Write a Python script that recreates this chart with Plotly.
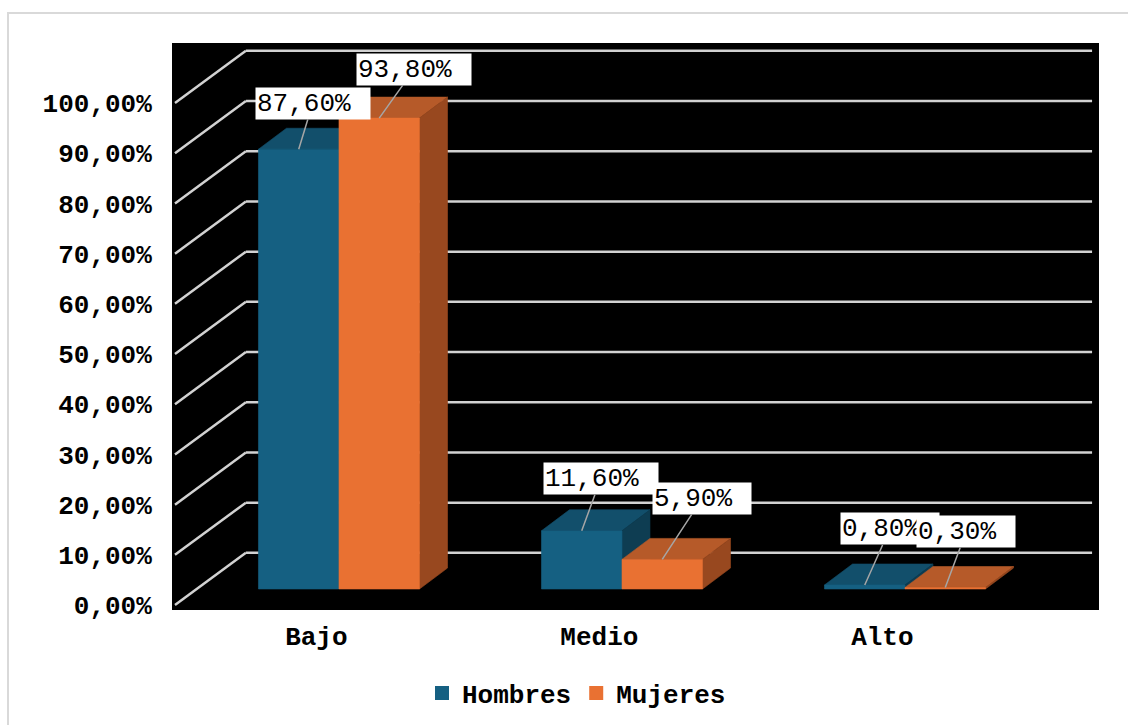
import plotly.graph_objects as go

# ---- data ----
categories = ["Bajo", "Medio", "Alto"]
hombres = [87.6, 11.6, 0.8]
mujeres = [93.8, 5.9, 0.3]
y_ticks = [0, 10, 20, 30, 40, 50, 60, 70, 80, 90, 100]
y_tick_labels = ["0,00%", "10,00%", "20,00%", "30,00%", "40,00%", "50,00%",
                 "60,00%", "70,00%", "80,00%", "90,00%", "100,00%"]
series_names = ["Hombres", "Mujeres"]

# ---- style ----
FONT = "Courier New, Liberation Mono, monospace"
FS = 26
BLUE = {"front": "#156082", "top": "#124f6b", "side": "#0e3d52"}
ORANGE = {"front": "#E97132", "top": "#B65A29", "side": "#98481F"}
GRID = "#d2d2d2"

BAR_W = 0.2845          # width of one bar (x units)
DX, DY = 0.099, 4.18    # oblique depth of a bar (x units, y units)
WALL_FRONT_DX, WALL_FRONT_DY = -0.5795, -3.2   # front end of gridlines
WALL_BACK_DX, WALL_BACK_DY = -0.329, 7.2      # back wall
WALL_RIGHT = 2.661
LABEL_DX = -0.08

fig = go.Figure()


def poly(xs, ys, color):
    fig.add_trace(go.Scatter(
        x=xs + [xs[0]], y=ys + [ys[0]], mode="lines", fill="toself",
        fillcolor=color, line=dict(color=color, width=0.6),
        hoverinfo="skip", showlegend=False))


def bar3d(x0, v, pal):
    x1 = x0 + BAR_W
    # top face
    poly([x0, x1, x1 + DX, x0 + DX], [v, v, v + DY, v + DY], pal["top"])
    # right side face
    poly([x1, x1 + DX, x1 + DX, x1], [0, DY, v + DY, v], pal["side"])
    # front face
    poly([x0, x1, x1, x0], [0, 0, v, v], pal["front"])


for i in range(len(categories)):
    bar3d(i - BAR_W, hombres[i], BLUE)
    bar3d(i, mujeres[i], ORANGE)

# legend entries
for name, pal in zip(series_names, [BLUE, ORANGE]):
    fig.add_trace(go.Scatter(
        x=[None], y=[None], mode="markers", name=f"<b>{name}</b>",
        marker=dict(symbol="square", size=14, color=pal["front"])))

# perspective gridlines: diagonal on the side wall, then along the back wall
shapes = []
for t in y_ticks:
    shapes.append(dict(type="line", xref="x", yref="y", layer="below",
                       x0=WALL_FRONT_DX, y0=t + WALL_FRONT_DY,
                       x1=WALL_BACK_DX, y1=t + WALL_BACK_DY,
                       line=dict(color=GRID, width=2.5)))
    shapes.append(dict(type="line", xref="x", yref="y", layer="below",
                       x0=WALL_BACK_DX, y0=t + WALL_BACK_DY,
                       x1=WALL_RIGHT, y1=t + WALL_BACK_DY,
                       line=dict(color=GRID, width=2.5)))

# outer chart-area frame
shapes.append(dict(type="rect", xref="paper", yref="paper",
                   x0=(8 - 172) / 927, x1=(1135 - 172) / 927,
                   y0=(610 - 735) / 567, y1=(610 - 13) / 567,
                   line=dict(color="#d9d9d9", width=2), layer="below"))

# data labels with leader lines
label_offsets = {
    ("Hombres", 0): (14, -46), ("Mujeres", 0): (35, -49),
    ("Hombres", 1): (19, -52), ("Mujeres", 1): (40, -61),
    ("Hombres", 2): (25, -56), ("Mujeres", 2): (21, -56),
}
annotations = []
for i in range(len(categories)):
    for name, vals, xc in (("Hombres", hombres, i - BAR_W / 2),
                           ("Mujeres", mujeres, i + BAR_W / 2)):
        txt = f"{vals[i]:.2f}%".replace(".", ",")
        ax, ay = label_offsets[(name, i)]
        annotations.append(dict(
            x=xc, y=vals[i], xref="x", yref="y", text=txt,
            showarrow=True, arrowhead=0, arrowwidth=1.5, arrowcolor="#a6a6a6",
            ax=ax, ay=ay, standoff=0, startstandoff=0,
            bgcolor="white", width=len(txt) * 15.6 + 18, height=29,
            borderpad=1, align="left",
            font=dict(family=FONT, size=FS, color="black")))

fig.update_layout(
    width=1128, height=725,
    margin=dict(l=172, r=29, t=43, b=115, autoexpand=False),
    paper_bgcolor="white", plot_bgcolor="black",
    shapes=shapes, annotations=annotations,
    font=dict(family=FONT, size=FS, color="black"),
    xaxis=dict(range=[-0.590, 2.6855], showgrid=False, zeroline=False,
               showline=False, tickmode="array", automargin=False,
               tickvals=[i + LABEL_DX for i in range(len(categories))],
               ticktext=[f"<b>{c}</b>" for c in categories],
               ticks="outside", ticklen=3, tickcolor="rgba(0,0,0,0)",
               tickfont=dict(family=FONT, size=FS, color="black"),
               fixedrange=True),
    yaxis=dict(range=[-4.183, 108.76], showgrid=False, zeroline=False,
               showline=False, tickmode="array", automargin=False,
               tickvals=[t + WALL_FRONT_DY for t in y_ticks],
               ticktext=[f"<b>{s}</b>" for s in y_tick_labels],
               ticks="outside", ticklen=14, tickcolor="rgba(0,0,0,0)",
               tickfont=dict(family=FONT, size=FS, color="black"),
               fixedrange=True),
    legend=dict(orientation="h", x=(422 - 172) / 927, xanchor="left",
                y=(610 - 693) / 567, yanchor="middle",
                font=dict(family=FONT, size=FS, color="black"),
                itemsizing="trace", bgcolor="rgba(0,0,0,0)"),
    showlegend=True,
)

fig.write_html("out.html")
